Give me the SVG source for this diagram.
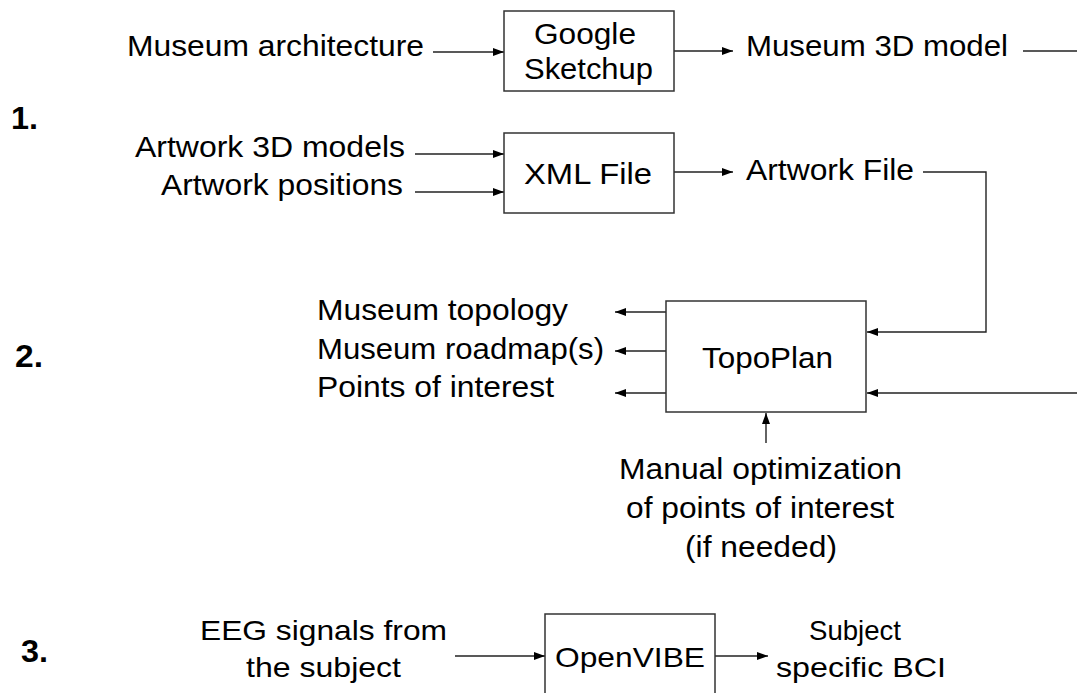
<svg xmlns="http://www.w3.org/2000/svg" width="1077" height="693" viewBox="0 0 1077 693">
<style>
text{font-family:"Liberation Sans",Arial,sans-serif;fill:#000;font-size:30px}
.b{font-weight:bold;font-size:31px}
.s{font-size:28px}
.box{fill:#fff;stroke:#333;stroke-width:1.5}
.c{fill:none;stroke:#222;stroke-width:1.4}
</style>
<defs>
<marker id="ah" markerUnits="userSpaceOnUse" markerWidth="11" markerHeight="9" refX="11" refY="4.5" orient="auto">
<path d="M0,0.5 L11,4.5 L0,8.5 z" fill="#000"/>
</marker>
</defs>
<rect width="1077" height="693" fill="#fff"/>
<g id="connectors">
<line class="c" x1="433" y1="52" x2="504" y2="52" marker-end="url(#ah)"/>
<line class="c" x1="674" y1="51" x2="733" y2="51" marker-end="url(#ah)"/>
<line class="c" x1="1023" y1="51" x2="1077" y2="51"/>
<line class="c" x1="415" y1="154" x2="504" y2="154" marker-end="url(#ah)"/>
<line class="c" x1="415" y1="192" x2="504" y2="192" marker-end="url(#ah)"/>
<line class="c" x1="674" y1="172" x2="733" y2="172" marker-end="url(#ah)"/>
<polyline class="c" points="923,172 986,172 986,332 867,332" marker-end="url(#ah)"/>
<line class="c" x1="1077" y1="393" x2="867" y2="393" marker-end="url(#ah)"/>
<line class="c" x1="666" y1="312" x2="615" y2="312" marker-end="url(#ah)"/>
<line class="c" x1="666" y1="351" x2="615" y2="351" marker-end="url(#ah)"/>
<line class="c" x1="666" y1="393" x2="615" y2="393" marker-end="url(#ah)"/>
<line class="c" x1="766" y1="443" x2="766" y2="413" marker-end="url(#ah)"/>
<line class="c" x1="455" y1="656" x2="545" y2="656" marker-end="url(#ah)"/>
<line class="c" x1="715" y1="656" x2="768" y2="656" marker-end="url(#ah)"/>
</g>
<g id="labels">
<text class="b" x="11" y="129" textLength="27" lengthAdjust="spacingAndGlyphs">1.</text>
<text class="b" x="15" y="367" textLength="28" lengthAdjust="spacingAndGlyphs">2.</text>
<text class="b" x="21" y="662" textLength="27" lengthAdjust="spacingAndGlyphs">3.</text>
</g>
<g id="museum-architecture"><text x="127" y="56" textLength="297" lengthAdjust="spacingAndGlyphs">Museum architecture</text></g>
<g id="google-sketchup">
<rect class="box" x="504" y="11" width="170" height="80"/>
<text x="534" y="44" textLength="102" lengthAdjust="spacingAndGlyphs">Google</text>
<text x="524" y="79" textLength="129" lengthAdjust="spacingAndGlyphs">Sketchup</text>
</g>
<g id="museum-3d-model"><text x="746" y="56" textLength="262" lengthAdjust="spacingAndGlyphs">Museum 3D model</text></g>
<g id="artwork-3d-models"><text x="135" y="157" textLength="270" lengthAdjust="spacingAndGlyphs">Artwork 3D models</text></g>
<g id="artwork-positions"><text x="161" y="195" textLength="242" lengthAdjust="spacingAndGlyphs">Artwork positions</text></g>
<g id="xml-file">
<rect class="box" x="504" y="133" width="170" height="80"/>
<text x="524" y="184" textLength="128" lengthAdjust="spacingAndGlyphs">XML File</text>
</g>
<g id="artwork-file"><text x="746" y="180" textLength="168" lengthAdjust="spacingAndGlyphs">Artwork File</text></g>
<g id="topoplan">
<rect class="box" x="666" y="301" width="200" height="111"/>
<text x="702" y="368" textLength="131" lengthAdjust="spacingAndGlyphs">TopoPlan</text>
</g>
<g id="outputs">
<text x="317" y="320" textLength="251" lengthAdjust="spacingAndGlyphs">Museum topology</text>
<text x="317" y="359" textLength="287" lengthAdjust="spacingAndGlyphs">Museum roadmap(s)</text>
<text x="317" y="397" textLength="237" lengthAdjust="spacingAndGlyphs">Points of interest</text>
</g>
<g id="manual-optimization">
<text x="619" y="479" textLength="283" lengthAdjust="spacingAndGlyphs">Manual optimization</text>
<text x="626" y="518" textLength="268" lengthAdjust="spacingAndGlyphs">of points of interest</text>
<text x="685" y="557" textLength="152" lengthAdjust="spacingAndGlyphs">(if needed)</text>
</g>
<g id="eeg-signals">
<text class="s" x="200" y="640" textLength="247" lengthAdjust="spacingAndGlyphs">EEG signals from</text>
<text class="s" x="246" y="677" textLength="155" lengthAdjust="spacingAndGlyphs">the subject</text>
</g>
<g id="openvibe">
<rect class="box" x="545" y="614" width="170" height="90"/>
<text class="s" x="555" y="667" textLength="150" lengthAdjust="spacingAndGlyphs">OpenVIBE</text>
</g>
<g id="subject-bci">
<text class="s" x="809" y="640" textLength="92" lengthAdjust="spacingAndGlyphs">Subject</text>
<text class="s" x="776" y="677" textLength="170" lengthAdjust="spacingAndGlyphs">specific BCI</text>
</g>
</svg>
